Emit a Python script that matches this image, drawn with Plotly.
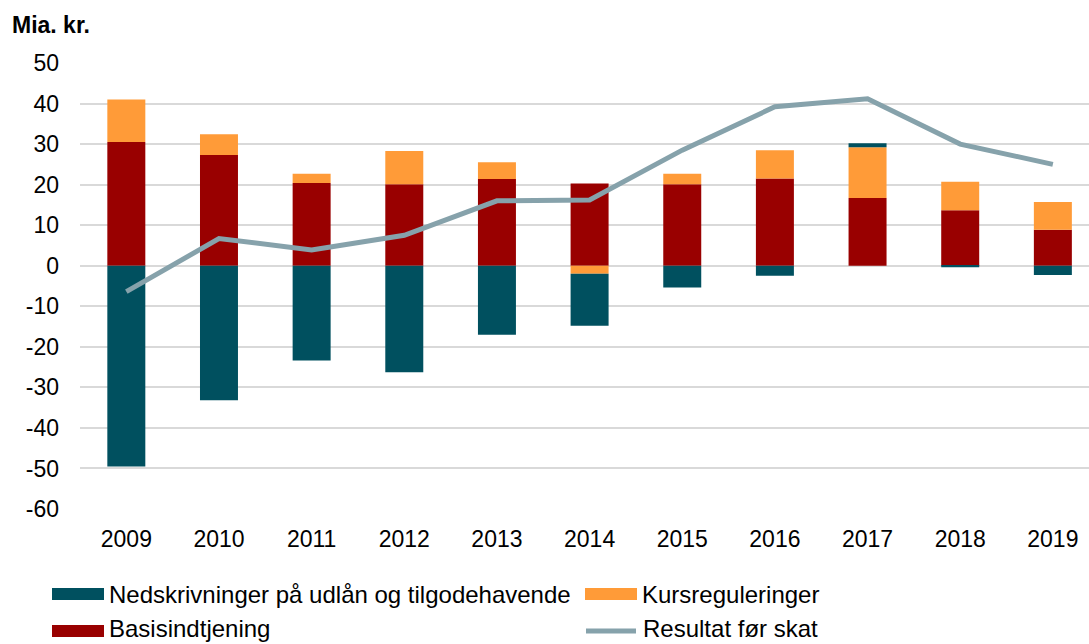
import plotly.graph_objects as go

years = ["2009", "2010", "2011", "2012", "2013", "2014", "2015", "2016", "2017", "2018", "2019"]
basisindtjening = [30.5, 27.3, 20.4, 20.1, 21.4, 20.3, 20.1, 21.5, 16.7, 13.7, 8.9]
kursreguleringer = [10.5, 5.1, 2.3, 8.2, 4.1, -2.0, 2.6, 7.0, 12.5, 7.0, 6.8]
nedskrivninger = [-49.5, -33.2, -23.4, -26.3, -17.0, -12.8, -5.4, -2.5, 1.0, -0.4, -2.3]
resultat = [-6.4, 6.7, 3.9, 7.5, 16.0, 16.2, 28.5, 39.2, 41.2, 30.0, 25.0]

y_tick_values = [50, 40, 30, 20, 10, 0, -10, -20, -30, -40, -50, -60]
y_tick_labels = ["50", "40", "30", "20", "10", "0", "-10", "-20", "-30", "-40", "-50", "-60"]

names = {
    "neds": "Nedskrivninger på udlån og tilgodehavende",
    "kurs": "Kursreguleringer",
    "basis": "Basisindtjening",
    "res": "Resultat før skat",
}
colors = {"neds": "#00505F", "kurs": "#FF9B38", "basis": "#990000", "res": "#86A2AB"}

FONT = "Liberation Sans, Arial, sans-serif"
FS = 23
LFS = 24

fig = go.Figure()
fig.add_trace(go.Bar(x=years, y=basisindtjening, name=names["basis"],
                     marker=dict(color=colors["basis"], line=dict(width=0)), showlegend=False))
fig.add_trace(go.Bar(x=years, y=kursreguleringer, name=names["kurs"],
                     marker=dict(color=colors["kurs"], line=dict(width=0)), showlegend=False))
fig.add_trace(go.Bar(x=years, y=nedskrivninger, name=names["neds"],
                     marker=dict(color=colors["neds"], line=dict(width=0)), showlegend=False))
fig.add_trace(go.Scatter(x=years, y=resultat, name=names["res"], mode="lines",
                         line=dict(color=colors["res"], width=5), showlegend=False))

W, H = 1089, 644
L, R, T, B = 80, 0, 63, 135
pw, ph = W - L - R, H - T - B


def px(xp):
    return (xp - L) / pw


def py(yp):
    return (H - B - yp) / ph


shapes = []
annotations = []
# custom legend (2 rows x 2 columns)
legend_items = [
    ("neds", 52, 104, 594, 594, "rect"),
    ("kurs", 585, 637, 594, 594, "rect"),
    ("basis", 52, 104, 631, 628, "rect"),
    ("res", 584, 638, 631, 628, "line"),
]
for key, x0, x1, yc, ty, kind in legend_items:
    if kind == "rect":
        shapes.append(dict(type="rect", xref="paper", yref="paper",
                           x0=px(x0), x1=px(x1), y0=py(yc - 6), y1=py(yc + 6),
                           fillcolor=colors[key], line=dict(width=0)))
    else:
        shapes.append(dict(type="line", xref="paper", yref="paper",
                           x0=px(x0 + 2), x1=px(x1 - 2), y0=py(yc), y1=py(yc),
                           line=dict(color=colors[key], width=5)))
    annotations.append(dict(xref="paper", yref="paper", x=px(x1 + 3), y=py(ty),
                            xanchor="left", yanchor="middle", showarrow=False,
                            text=names[key], font=dict(family=FONT, size=LFS, color="#000000")))

annotations.append(dict(xref="paper", yref="paper", x=px(10), y=py(25),
                        xanchor="left", yanchor="middle", showarrow=False,
                        text="<b>Mia. kr.</b>", font=dict(family=FONT, size=FS, color="#000000")))

fig.update_layout(
    width=W, height=H,
    margin=dict(l=L, r=R, t=T, b=B, pad=0),
    paper_bgcolor="white", plot_bgcolor="white",
    barmode="relative", bargap=0.59,
    font=dict(family=FONT, size=FS, color="#000000"),
    shapes=shapes, annotations=annotations,
    xaxis=dict(range=[-0.5, 10.39], showgrid=False, showline=False, zeroline=False,
               ticks="", ticklabelstandoff=14, tickfont=dict(size=FS)),
    yaxis=dict(range=[-60, 50], tickmode="array", tickvals=y_tick_values, ticktext=y_tick_labels,
               showgrid=True, gridcolor="#D9D9D9",
               gridwidth=2, zeroline=True, zerolinecolor="#D9D9D9", zerolinewidth=2,
               showline=False, ticks="", ticklabelstandoff=20, tickfont=dict(size=FS)),
)

fig.write_html("out.html", config={"displayModeBar": False},
               post_script="document.body.style.margin='0';document.body.style.overflow='hidden';")
